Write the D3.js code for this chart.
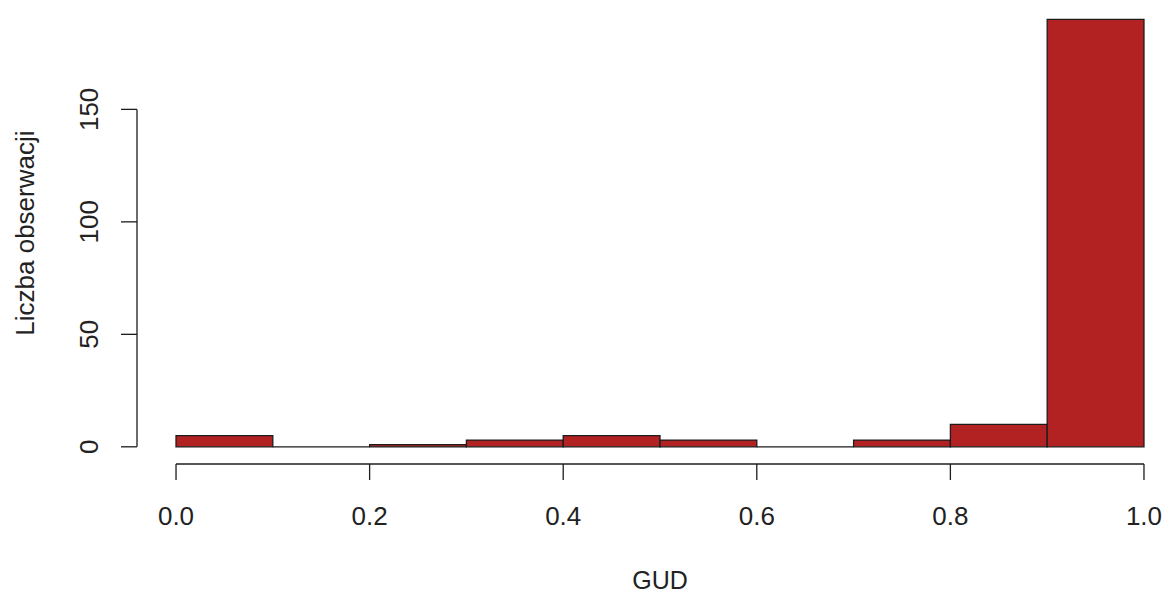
<!DOCTYPE html>
<html>
<head>
<meta charset="utf-8">
<script src="https://cdn.jsdelivr.net/npm/d3@7"></script>
<style>
  body { margin: 0; background: #fff; }
  svg text { font-family: "Liberation Sans", Arial, sans-serif; fill: #222; }
</style>
</head>
<body>
<svg id="chart" width="1168" height="595"></svg>
<script>
// histogram bins (GUD) and counts
var binStarts = [0.0, 0.1, 0.2, 0.3, 0.4, 0.5, 0.6, 0.7, 0.8, 0.9];
var binWidth = 0.1;
var counts = [5, 0, 1, 3, 5, 3, 0, 3, 10, 190];
var xTicks = [0.0, 0.2, 0.4, 0.6, 0.8, 1.0];
var yTicks = [0, 50, 100, 150];
var xLabel = "GUD";
var yLabel = "Liczba obserwacji";

var svg = d3.select('#chart');

// plot region like R: data range extended by 4%
var x = d3.scaleLinear().domain([-0.04, 1.04]).range([137.3, 1182.7]);
var y = d3.scaleLinear().domain([-7.6, 197.6]).range([463.9, 2.3]);

var ink = "#1c1c1c";

// bars as closed paths so empty bins still show a line on the baseline
svg.append("g").selectAll("path")
    .data(counts)
    .enter().append("path")
    .attr("d", function(d, i) {
        var x0 = x(binStarts[i]), x1 = x(binStarts[i] + binWidth);
        return "M" + x0 + "," + y(0) + "V" + y(d) + "H" + x1 + "V" + y(0) + "Z";
    })
    .style("fill", "#B22222")
    .style("stroke", ink)
    .style("stroke-width", 1.3);

// x axis
var xAxis = svg.append("g").attr("transform", "translate(0,464)");
xAxis.append("line")
    .attr("x1", x(xTicks[0])).attr("x2", x(xTicks[xTicks.length - 1]))
    .style("stroke", ink).style("stroke-width", 1.3);
xAxis.selectAll(".tick").data(xTicks).enter().append("line")
    .attr("x1", function(d) { return x(d); }).attr("x2", function(d) { return x(d); })
    .attr("y1", 0).attr("y2", 16)
    .style("stroke", ink).style("stroke-width", 1.3);
xAxis.selectAll("text").data(xTicks).enter().append("text")
    .attr("x", function(d) { return x(d); })
    .attr("y", 61)
    .attr("text-anchor", "middle")
    .style("font-size", "26px")
    .text(function(d) { return d3.format(".1f")(d); });

// y axis
var yAxis = svg.append("g").attr("transform", "translate(137,0)");
yAxis.append("line")
    .attr("y1", y(yTicks[0])).attr("y2", y(yTicks[yTicks.length - 1]))
    .style("stroke", ink).style("stroke-width", 1.3);
yAxis.selectAll(".tick").data(yTicks).enter().append("line")
    .attr("y1", function(d) { return y(d); }).attr("y2", function(d) { return y(d); })
    .attr("x1", 0).attr("x2", -16)
    .style("stroke", ink).style("stroke-width", 1.3);
yAxis.selectAll("text").data(yTicks).enter().append("text")
    .attr("transform", function(d) { return "translate(-39," + y(d) + ") rotate(-90)"; })
    .attr("text-anchor", "middle")
    .style("font-size", "26px")
    .text(function(d) { return d; });

// axis titles
svg.append("text")
    .attr("x", (x.range()[0] + x.range()[1]) / 2)
    .attr("y", 589)
    .attr("text-anchor", "middle")
    .style("font-size", "25px")
    .text(xLabel);

svg.append("text")
    .attr("transform", "translate(34," + (y.range()[0] + y.range()[1]) / 2 + ") rotate(-90)")
    .attr("text-anchor", "middle")
    .style("font-size", "26px")
    .text(yLabel);
</script>
</body>
</html>
